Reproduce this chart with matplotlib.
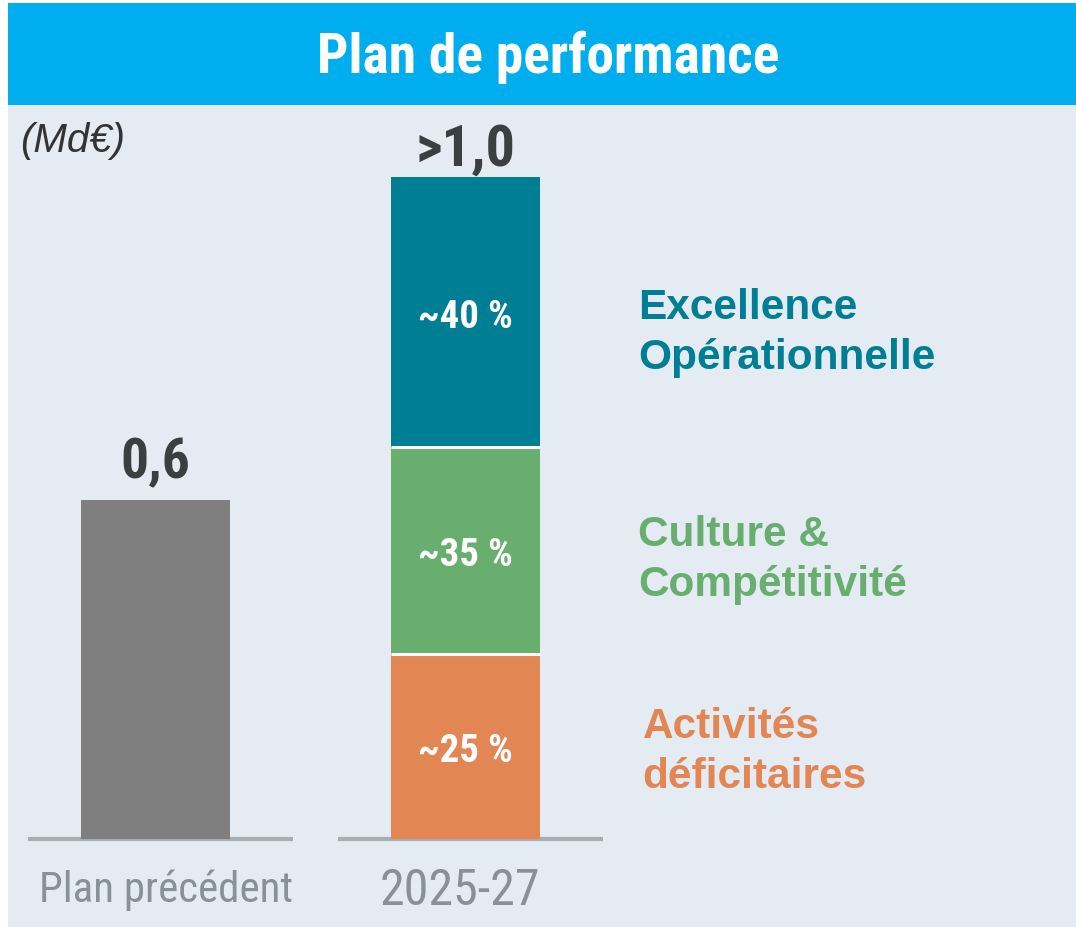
import matplotlib
matplotlib.use("Agg")
import matplotlib.pyplot as plt
from matplotlib.patches import Rectangle
import numpy as np

# ---- data ----
categories = ["Plan précédent", "2025-27"]
previous_value = [0.6]
segment_names = ["Activités\ndéficitaires", "Culture &\nCompétitivité", "Excellence\nOpérationnelle"]
segment_values = [0.327, 0.366, 0.478]   # stacked 2025-27 bar (bottom -> top)
segment_labels = ["~25 %", "~35 %", "~40 %"]
total_labels = ["0,6", ">1,0"]
title = "Plan de performance"
unit = "(Md€)"

# ---- style ----
W, H = 1076, 928
NARROW = ["Liberation Sans Narrow", "Roboto Condensed", "DejaVu Sans"]
ARIAL = ["Liberation Sans", "DejaVu Sans"]
banner_col = "#00AEEF"
bg_col = "#E4EBF3"
gray_col = "#7F7F7F"
seg_cols = ["#E28654", "#68AE6F", "#007E93"]
dark = "#3A3F42"
tick_col = "#87919A"
base_col = "#A7ADB0"

fig = plt.figure(figsize=(W / 100, H / 100), dpi=100)
fig.patch.set_facecolor("white")
fig.patches.append(Rectangle((8 / W, 0), 1 - 8 / W, 1 - 106 / H, transform=fig.transFigure,
                             facecolor=bg_col, edgecolor="none", zorder=-2))
fig.patches.append(Rectangle((8 / W, 1 - 106 / H), 1 - 8 / W, 102 / H, transform=fig.transFigure,
                             facecolor=banner_col, edgecolor="none", zorder=-2))

ax = fig.add_axes([0, 0, 1, 1])
ax.set_zorder(1)
ax.set_facecolor("none")
ax.patch.set_alpha(0)
px_x = 310.0   # pixels per category unit
px_y = 565.0   # pixels per Md€
xmin = -155.5 / px_x
ymin = -(H - 840) / px_y
ax.set_xlim(xmin, xmin + W / px_x)
ax.set_ylim(ymin, ymin + H / px_y)
ax.axis("off")

bw = 0.48
x = np.arange(len(categories))

# previous plan bar
ax.bar(x[0], previous_value[0], width=bw, color=gray_col, zorder=2)

# stacked bar
bottoms = np.concatenate([[0], np.cumsum(segment_values)[:-1]])
for v, b, c, lab in zip(segment_values, bottoms, seg_cols, segment_labels):
    ax.bar(x[1], v, bottom=b, width=bw, color=c, zorder=2)
    ax.text(x[1], b + v / 2 - 0.007, lab, ha="center", va="center", color="white",
            fontsize=28, fontweight="bold", family=NARROW, zorder=3)
for b in bottoms[1:]:
    ax.hlines(b, x[1] - bw / 2, x[1] + bw / 2, color="white", lw=2.2, zorder=3)

# baselines
for xi in x:
    ax.hlines(0, xi - 0.411, xi + 0.445, color=base_col, lw=3, zorder=1)

# totals
totals = [previous_value[0], float(np.sum(segment_values))]
offsets = [16.5, 9.4]
sizes = [40, 42]
for xi, t, lab, off, s in zip(x, totals, total_labels, offsets, sizes):
    ax.annotate(lab, (xi, t), xytext=(0, off), textcoords="offset points",
                ha="center", va="baseline", fontsize=s, fontweight="bold",
                color=dark, family=NARROW, zorder=3)

# category labels
ax.text(x[0] + 0.035, -0.11, categories[0], ha="center", va="baseline",
        fontsize=31, color=tick_col, family=NARROW)
ax.text(x[1] - 0.018, -0.115, categories[1], ha="center", va="baseline",
        fontsize=36, color=tick_col, family=NARROW)

# segment names on the right
name_x = [1.571, 1.556, 1.556]
name_dy = [-0.008, -0.015, -0.035]
for name, v, b, c, nx, dy in zip(segment_names, segment_values, bottoms, seg_cols, name_x, name_dy):
    ax.text(nx, b + v / 2 + dy, name, ha="left", va="center", color=c,
            fontsize=30.5, fontweight="bold", family=ARIAL, linespacing=1.32)

# title and unit
fig.text(548 / W, 1 - 73 / H, title, ha="center", va="baseline", color="white",
         fontsize=40, fontweight="bold", family=NARROW)
fig.text(20 / W, 1 - 152 / H, unit, ha="left", va="baseline", color="#333333",
         fontsize=29, style="italic", family=ARIAL)

fig.savefig("out.png", dpi=100)
